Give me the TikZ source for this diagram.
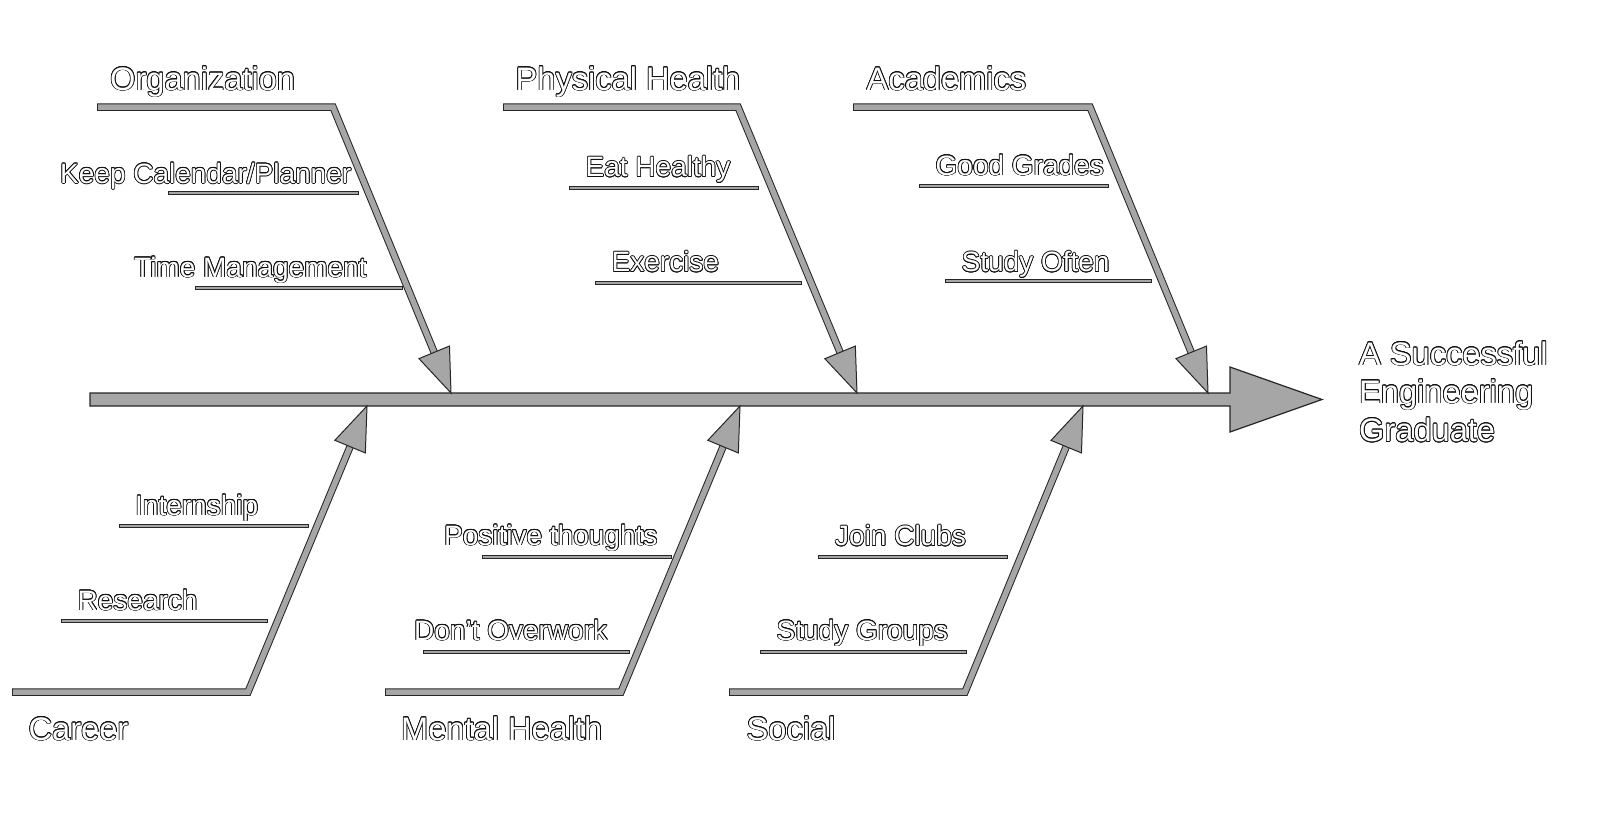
\documentclass[tikz,border=0pt]{standalone}
\usepackage{fontspec}
\setmainfont{Liberation Sans}
\usepackage{contour}
\contourlength{0.75pt}
\usetikzlibrary{calc}
\definecolor{bonegray}{HTML}{A6A6A6}
\definecolor{edgedark}{HTML}{262626}
\definecolor{textedge}{HTML}{111111}
\newcommand\outl[1]{{\color{white}\contour{textedge}{#1}}}
\tikzset{
  catlabel/.style={anchor=base west, inner sep=0pt, font=\fontsize{32.6}{38}\selectfont},
  sublabel/.style={anchor=base west, inner sep=0pt, font=\fontsize{28}{33}\selectfont},
  boneouter/.style={draw=edgedark, line width=7.5pt, line join=miter, line cap=butt},
  boneinner/.style={draw=bonegray, line width=5.5pt, line join=miter, line cap=butt, shorten <=1pt},
  subouter/.style={draw=edgedark, line width=4pt, line cap=butt},
  subinner/.style={draw=bonegray, line width=2pt, line cap=butt, shorten <=1pt, shorten >=1pt},
  headstyle/.style={fill=bonegray, draw=edgedark, line width=1pt, line join=miter},
  spinestyle/.style={fill=bonegray, draw=edgedark, line width=1.2pt, line join=miter},
}
\newcommand\fishbone[4]{%
  \coordinate (#1s) at #2;
  \coordinate (#1k) at #3;
  \coordinate (#1t) at #4;
  \coordinate (#1h) at ($(#1t)!44pt!(#1k)$);
  \coordinate (#1m) at ($(#1t)!40pt!(#1k)$);
  \draw[boneouter] (#1s) -- (#1k) -- (#1m);
  \draw[boneinner] (#1s) -- (#1k) -- (#1m);
  \draw[headstyle] (#1t) -- ($(#1h)!16.5pt!90:(#1t)$) -- ($(#1h)!16.5pt!-90:(#1t)$) -- cycle;
}
\newcommand\subbone[4]{%
  \coordinate (#1a) at (#2,#4);
  \coordinate (#1b) at (#3,#4);
  \draw[subouter] (#1a) -- (#1b);
  \draw[subinner] (#1a) -- (#1b);
}
\begin{document}
\begin{tikzpicture}[x=1pt,y=-1pt]
\useasboundingbox (0,0) rectangle (1599,831);
\fill[white] (0,0) rectangle (1599,831);
% spine with big arrow
\coordinate (spL) at (90,399.5);
\coordinate (spT) at (1322,399.5);
\draw[spinestyle] (90,393) -- (1230,393) -- (1230,367) -- (spT) -- (1230,432) -- (1230,406) -- (90,406) -- cycle;
% upper bones
\fishbone{org}{(97,107)}{(333,107)}{(451,393)}
\fishbone{phy}{(503,107)}{(738,107)}{(857,393)}
\fishbone{aca}{(853,107)}{(1090,107)}{(1208,393)}
% lower bones
\fishbone{car}{(12,692)}{(248,692)}{(367,406)}
\fishbone{men}{(385,692)}{(621,692)}{(740,406)}
\fishbone{soc}{(729,692)}{(965,692)}{(1083,406)}
% sub bones
\subbone{kc}{168}{359}{193.3}
\subbone{tm}{195}{402.7}{288.3}
\subbone{eh}{569}{759}{187.7}
\subbone{ex}{595}{801.7}{282.7}
\subbone{gg}{919}{1109}{186}
\subbone{so}{945}{1151.7}{281}
\subbone{in}{119.3}{309.3}{525.7}
\subbone{re}{61}{268.3}{620.7}
\subbone{pt}{481.7}{671.7}{556.7}
\subbone{dw}{423.3}{630}{651.7}
\subbone{jc}{818.3}{1008.3}{556.7}
\subbone{sg}{760}{967.3}{651.7}
% category labels
\node[catlabel] (Lorg) at (110,90) {\outl{Organization}};
\node[catlabel] (Lphy) at (515.5,90) {\outl{Physical Health}};
\node[catlabel] (Laca) at (866.5,90) {\outl{Academics}};
\node[catlabel] (Lcar) at (28.5,740) {\outl{Career}};
\node[catlabel] (Lmen) at (401,740) {\outl{Mental Health}};
\node[catlabel] (Lsoc) at (746.5,740) {\outl{Social}};
% effect
\node[catlabel] (G1) at (1359,365) {\outl{A Successful}};
\node[catlabel] (G2) at (1359,403) {\outl{Engineering}};
\node[catlabel] (G3) at (1359,441.5) {\outl{Graduate}};
% sub labels
\node[sublabel] (Tkc) at (60,183.3) {\outl{Keep Calendar/Planner}};
\node[sublabel] (Ttm) at (134,277) {\outl{Time Management}};
\node[sublabel] (Teh) at (585.5,176.7) {\outl{Eat Healthy}};
\node[sublabel] (Tex) at (611.5,271.7) {\outl{Exercise}};
\node[sublabel] (Tgg) at (935.5,175) {\outl{Good Grades}};
\node[sublabel] (Tso) at (961.5,271.7) {\outl{Study Often}};
\node[sublabel] (Tin) at (135,515) {\outl{Internship}};
\node[sublabel] (Tre) at (77.5,610) {\outl{Research}};
\node[sublabel] (Tpt) at (444,545) {\outl{Positive thoughts}};
\node[sublabel] (Tdw) at (414,640) {\outl{Don’t Overwork}};
\node[sublabel] (Tjc) at (835,545.7) {\outl{Join Clubs}};
\node[sublabel] (Tsg) at (776.5,640) {\outl{Study Groups}};
\end{tikzpicture}
\end{document}
